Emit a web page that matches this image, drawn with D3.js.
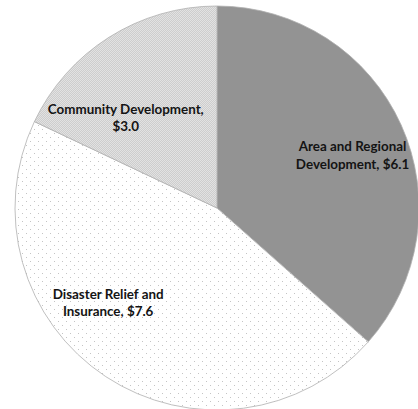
<!DOCTYPE html>
<html>
<head>
<meta charset="utf-8">
<script src="https://cdn.jsdelivr.net/npm/d3@7"></script>
<style>
  html, body { margin: 0; padding: 0; background: #ffffff; }
  svg { display: block; }
</style>
</head>
<body>
<svg id="chart" width="418" height="409"></svg>
<script>
// Spending by category (billions of dollars)
const categories = ["Area and Regional Development", "Disaster Relief and Insurance", "Community Development"];
const values = [6.1, 7.6, 3.0];
const labelLines = [
  ["Area and Regional", "Development, $6.1"],
  ["Disaster Relief and", "Insurance, $7.6"],
  ["Community Development,", "$3.0"]
];
const fills = ["solid", "dots", "hatch"];

const width = 418, height = 409;
const cx = 217, cy = 208, radius = 202;

const svg = d3.select("#chart");
const defs = svg.append("defs");

// Fine dotted texture on white
const dots = defs.append("pattern")
  .attr("id", "dots").attr("patternUnits", "userSpaceOnUse")
  .attr("width", 8).attr("height", 8);
dots.append("rect").attr("width", 8).attr("height", 8).attr("fill", "#ffffff");
dots.append("rect").attr("x", 1).attr("y", 1).attr("width", 1).attr("height", 1).attr("fill", "#c4c4c4");
dots.append("rect").attr("x", 5).attr("y", 5).attr("width", 1).attr("height", 1).attr("fill", "#c4c4c4");

// Light grey cross-hatch texture
const hatch = defs.append("pattern")
  .attr("id", "hatch").attr("patternUnits", "userSpaceOnUse")
  .attr("width", 2).attr("height", 2);
hatch.append("rect").attr("width", 2).attr("height", 2).attr("fill", "#e2e2e2");
hatch.append("rect").attr("x", 0).attr("y", 0).attr("width", 1).attr("height", 1).attr("fill", "#cdcdcd");
hatch.append("rect").attr("x", 1).attr("y", 1).attr("width", 1).attr("height", 1).attr("fill", "#cdcdcd");

const fillFor = f => f === "solid" ? "#939393" : (f === "dots" ? "url(#dots)" : "url(#hatch)");

const data = categories.map((c, i) => ({ category: c, value: values[i], lines: labelLines[i], fill: fills[i] }));

const pie = d3.pie().value(d => d.value).sort(null);
const arc = d3.arc().innerRadius(0).outerRadius(radius);
const arcs = pie(data);

const g = svg.append("g").attr("transform", `translate(${cx},${cy})`);

g.selectAll("path.slice")
  .data(arcs)
  .join("path")
  .attr("class", "slice")
  .attr("d", arc)
  .attr("fill", d => fillFor(d.data.fill))
  .attr("stroke", "#b0b0b0")
  .attr("stroke-width", 0.8);

// Label placement: distance from centre (fraction of radius) and
// angular nudge (degrees) from each slice's mid-angle
const labelRadius = [0.72, 0.715, 0.635];
const labelNudge = [3, 15.5, -13];
const lineHeight = 17.5;

g.selectAll("text.label")
  .data(arcs)
  .join("text")
  .attr("class", "label")
  .attr("text-anchor", "middle")
  .attr("font-family", "Lato, 'Open Sans', sans-serif")
  .attr("font-weight", "bold")
  .attr("font-size", "13.4px")
  .attr("fill", "#141414")
  .each(function (d, i) {
    const a = (d.startAngle + d.endAngle) / 2 + labelNudge[i] * Math.PI / 180;
    const r = radius * labelRadius[i];
    const x = Math.sin(a) * r;
    const y = -Math.cos(a) * r;
    const lines = d.data.lines;
    const t = d3.select(this);
    lines.forEach((ln, k) => {
      t.append("tspan")
        .attr("x", x)
        .attr("y", y + (k - (lines.length - 1) / 2) * lineHeight + 4.5)
        .text(ln);
    });
  });
</script>
</body>
</html>
